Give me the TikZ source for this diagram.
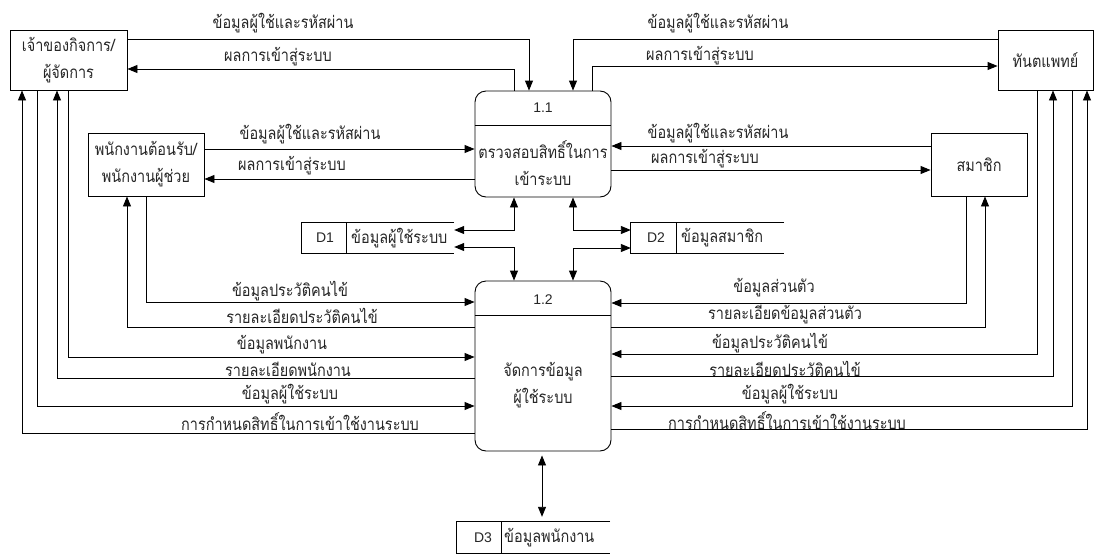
\documentclass[tikz,border=0pt]{standalone}
\usepackage{fontspec}
\setmainfont[Script=Thai, FakeStretch=0.85]{Loma}
\newfontfamily\latinfont{Liberation Sans}
\usetikzlibrary{arrows.meta}
\newcommand{\fs}{\fontsize{17}{27}\selectfont}
\newcommand{\fsl}{\latinfont\fontsize{14}{16}\selectfont}
\begin{document}
\begin{tikzpicture}[x=1pt,y=-1pt,
  every node/.style={font=\fs, inner sep=0pt, text=black!85},
  ent/.style={draw=black, line width=0.9pt, align=center},
  proc/.style={draw=black, line width=0.9pt, rounded corners=11pt, minimum width=136pt},
  store/.style={minimum height=30pt},
  num/.style={font=\fsl},
  ln/.style={line width=0.9pt},
  arr/.style={line width=0.9pt, -{Triangle[length=10pt,width=8pt]}},
  arrb/.style={line width=0.9pt, {Triangle[length=10pt,width=8pt]}-{Triangle[length=10pt,width=8pt]}}
]
\useasboundingbox (0,0) rectangle (1103,557);
% external entities
\node[ent, minimum width=117pt, minimum height=60pt] (owner) at (68.5,60) {เจ้าของกิจการ/\\ผู้จัดการ};
\node[ent, minimum width=95pt, minimum height=60pt] (dent) at (1045.5,60) {ทันตแพทย์};
\node[ent, minimum width=116pt, minimum height=63pt] (recep) at (146,164.5) {พนักงานต้อนรับ/\\พนักงานผู้ช่วย};
\node[ent, minimum width=96pt, minimum height=63pt] (mem) at (979,164.5) {สมาชิก};
% processes
\node[proc, minimum height=106pt] (p11) at (543,144) {};
\draw[ln] (p11.west |- 0,125) -- (p11.east |- 0,125);
\node[num] (n11) at (543,108) {1.1};
\node[align=center] (t11) at (543,163) {ตรวจสอบสิทธิ์ในการ\\เข้าระบบ};
\node[proc, minimum height=170pt] (p12) at (543,366) {};
\draw[ln] (p12.west |- 0,315) -- (p12.east |- 0,315);
\node[num] (n12) at (543,300) {1.2};
\node[align=center] (t12) at (543,385) {จัดการข้อมูล\\ผู้ใช้ระบบ};
% data stores
\node[store, minimum width=152pt] (d1) at (378,238) {};
\draw[ln] (d1.north east) -- (d1.north west) -- (d1.south west) -- (d1.south east);
\draw[ln] (d1.north -| 346,0) -- (d1.south -| 346,0);
\node[num] (d1id) at (325,238) {D1};
\node[anchor=west] (d1t) at (351,238) {ข้อมูลผู้ใช้ระบบ};
\node[store, minimum width=153pt] (d2) at (707.5,238) {};
\draw[ln] (d2.north east) -- (d2.north west) -- (d2.south west) -- (d2.south east);
\draw[ln] (d2.north -| 676,0) -- (d2.south -| 676,0);
\node[num] (d2id) at (656,238) {D2};
\node[anchor=west] (d2t) at (681,238) {ข้อมูลสมาชิก};
\node[store, minimum width=153pt, minimum height=31pt] (d3) at (533.5,537.5) {};
\draw[ln] (d3.north east) -- (d3.north west) -- (d3.south west) -- (d3.south east);
\draw[ln] (d3.north -| 501,0) -- (d3.south -| 501,0);
\node[num] (d3id) at (483,537.5) {D3};
\node[anchor=west] (d3t) at (504,537.5) {ข้อมูลพนักงาน};
% owner <-> 1.1
\draw[arr] (owner.east |- 0,39) -| (p11.north -| 529,0);
\node (l1) at (283,23) {ข้อมูลผู้ใช้และรหัสผ่าน};
\draw[arr] (p11.north -| 514,0) |- (owner.east |- 0,69);
\node (l2) at (278,57) {ผลการเข้าสู่ระบบ};
% dentist <-> 1.1
\draw[arr] (dent.west |- 0,39) -| (p11.north -| 573,0);
\node (l3) at (718,23) {ข้อมูลผู้ใช้และรหัสผ่าน};
\draw[arr] (p11.north -| 592,0) |- (dent.west |- 0,66);
\node (l4) at (700,56) {ผลการเข้าสู่ระบบ};
% receptionist <-> 1.1
\draw[arr] (recep.east |- 0,149) -- (p11.west |- 0,149);
\node (l5) at (310,134) {ข้อมูลผู้ใช้และรหัสผ่าน};
\draw[arr] (p11.west |- 0,179) -- (recep.east |- 0,179);
\node (l6) at (292,166) {ผลการเข้าสู่ระบบ};
% member <-> 1.1
\draw[arr] (mem.west |- 0,146) -- (p11.east |- 0,146);
\node (l7) at (718,133) {ข้อมูลผู้ใช้และรหัสผ่าน};
\draw[arr] (p11.east |- 0,170) -- (mem.west |- 0,170);
\node (l8) at (705,159) {ผลการเข้าสู่ระบบ};
% stores
\draw[arrb] (p11.south -| 514,0) |- (d1.east |- 0,230);
\draw[arrb] (p12.north -| 514,0) |- (d1.east |- 0,247);
\draw[arrb] (p11.south -| 573,0) |- (d2.west |- 0,230);
\draw[arrb] (p12.north -| 573,0) |- (d2.west |- 0,248);
\draw[arrb, shorten <=4pt, shorten >=5pt] (p12.south -| 542,0) -- (d3.north -| 542,0);
% left side of 1.2
\draw[arr] (recep.south -| 146,0) |- (p12.west |- 0,302);
\node (l9) at (290,291) {ข้อมูลประวัติคนไข้};
\draw[arr] (p12.west |- 0,327) -| (recep.south -| 127,0);
\node (l10) at (302,316) {รายละเอียดประวัติคนไข้};
\draw[arr] (owner.south -| 68,0) |- (p12.west |- 0,357);
\node (l11) at (282,345) {ข้อมูลพนักงาน};
\draw[arr] (p12.west |- 0,378) -| (owner.south -| 57,0);
\node (l12) at (288,369) {รายละเอียดพนักงาน};
\draw[arr] (owner.south -| 37,0) |- (p12.west |- 0,406);
\node (l13) at (290,394) {ข้อมูลผู้ใช้ระบบ};
\draw[arr] (p12.west |- 0,433) -| (owner.south -| 22,0);
\node (l14) at (300,422) {การกำหนดสิทธิ์ในการเข้าใช้งานระบบ};
% right side of 1.2
\draw[arr] (mem.south -| 966,0) |- (p12.east |- 0,303);
\node (l15) at (774,288) {ข้อมูลส่วนตัว};
\draw[arr] (p12.east |- 0,327) -| (mem.south -| 985,0);
\node (l16) at (785,315) {รายละเอียดข้อมูลส่วนตัว};
\draw[arr] (dent.south -| 1037,0) |- (p12.east |- 0,354);
\node (l17) at (770,343) {ข้อมูลประวัติคนไข้};
\draw[arr] (p12.east |- 0,376) -| (dent.south -| 1053,0);
\node (l18) at (785,369) {รายละเอียดประวัติคนไข้};
\draw[arr] (dent.south -| 1072,0) |- (p12.east |- 0,406);
\node (l19) at (790,394) {ข้อมูลผู้ใช้ระบบ};
\draw[arr] (p12.east |- 0,429) -| (dent.south -| 1087,0);
\node (l20) at (787,421) {การกำหนดสิทธิ์ในการเข้าใช้งานระบบ};
\end{tikzpicture}
\end{document}
